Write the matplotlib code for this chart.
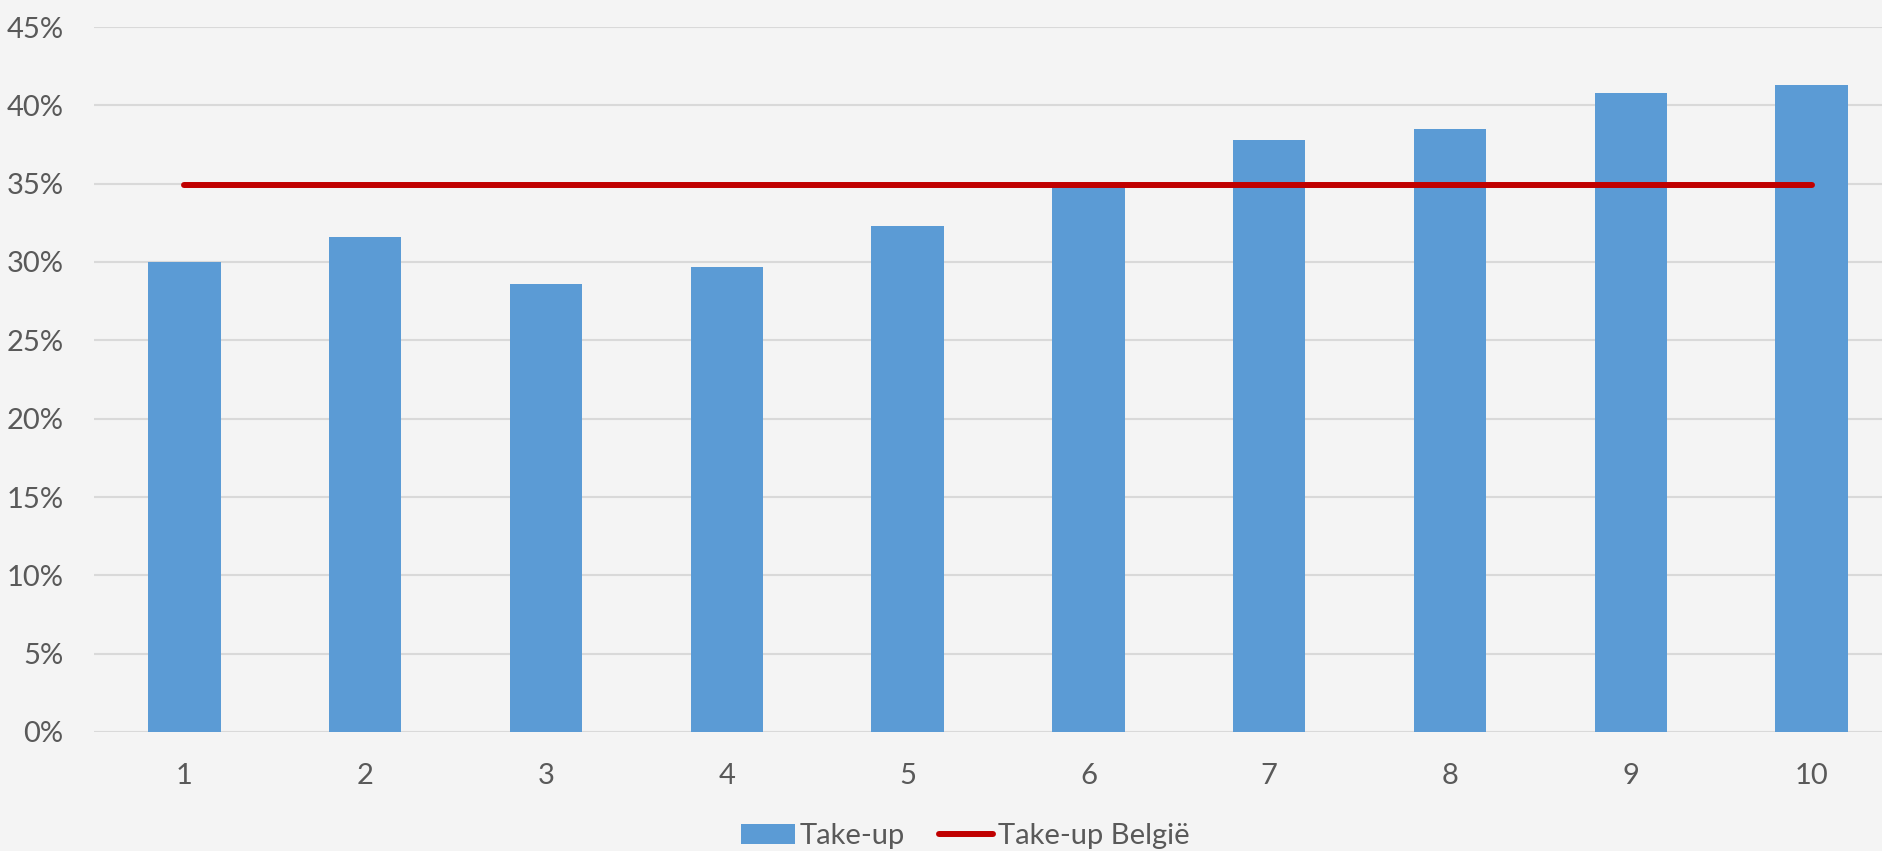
import matplotlib
matplotlib.use("Agg")
import matplotlib.pyplot as plt
from matplotlib.ticker import FuncFormatter

# data
categories = [1, 2, 3, 4, 5, 6, 7, 8, 9, 10]
take_up = [30.0, 31.6, 28.6, 29.7, 32.3, 35.1, 37.8, 38.5, 40.8, 41.3]
take_up_belgie = [34.9] * 10
y_ticks = [0, 5, 10, 15, 20, 25, 30, 35, 40, 45]

bg = "#f4f4f4"
text_col = "#595959"
plt.rcParams["font.family"] = ["Lato", "DejaVu Sans"]

fig = plt.figure(figsize=(18.83, 8.51), dpi=100, facecolor=bg)
ax = fig.add_axes([94 / 1883, 119 / 851, 1789 / 1883, 705 / 851])
ax.set_facecolor(bg)

bars = ax.bar(categories, take_up, width=0.4, color="#5b9bd5", label="Take-up", zorder=2)
line, = ax.plot(categories, take_up_belgie, color="#c00000", lw=4.3,
                solid_capstyle="round", label="Take-up België", zorder=3)

ax.set_xlim(0.5, 0.5 + 1789 / 180.8)
ax.set_ylim(0, 45)
ax.set_yticks(y_ticks)
ax.yaxis.set_major_formatter(FuncFormatter(lambda v, p: f"{v:.0f}%"))
ax.set_xticks(categories)
ax.set_xticklabels([str(c) for c in categories])

ax.grid(axis="y", color="#d9d9d9", lw=1.5, zorder=0)
for s in ax.spines.values():
    s.set_visible(False)
ax.tick_params(length=0, labelsize=21, colors=text_col, pad=22)

# legend below the plot, bars first then the line
fig.legend(handles=[bars, line], loc="center", bbox_to_anchor=(0.5125, 0.0176),
           ncol=2, frameon=False, fontsize=21, labelcolor=text_col,
           handlelength=1.85, handletextpad=0.17, columnspacing=1.15,
           borderaxespad=0)

fig.savefig("out.png", dpi=100, facecolor=bg)
plt.close(fig)
